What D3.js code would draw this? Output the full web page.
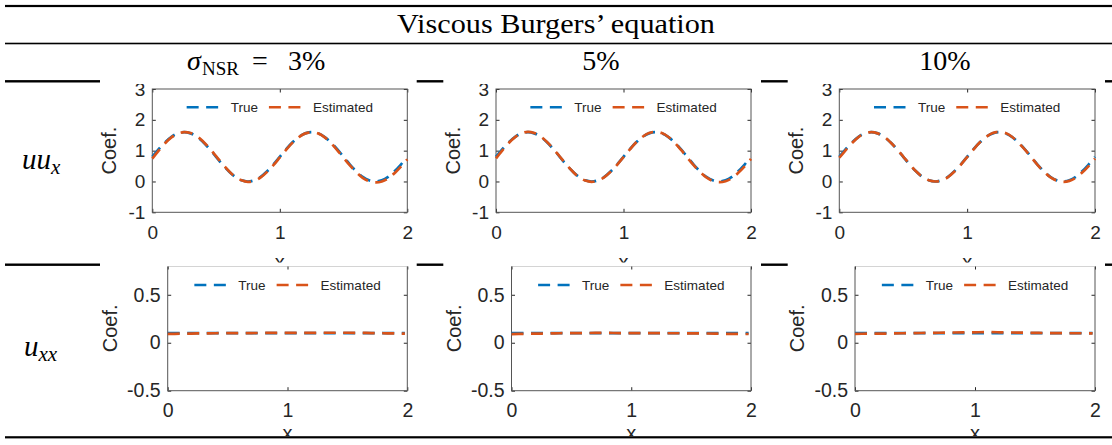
<!DOCTYPE html>
<html>
<head>
<meta charset="utf-8">
<script src="https://cdn.jsdelivr.net/npm/d3@7"></script>
<style>
  html, body { margin: 0; padding: 0; background: #fff; }
  svg { display: block; }
</style>
</head>
<body>
<svg id="fig" width="1112" height="445"></svg>
<script>
// ---- data ---------------------------------------------------------------
const title = "Viscous Burgers\u2019 equation";
const noiseLevels = ["3%", "5%", "10%"];
const terms = ["uu_x", "u_xx"];
const seriesNames = ["True", "Estimated"];

// x grid of the uu_x coefficient curves
const xTop = [0.00,0.05,0.10,0.15,0.20,0.25,0.30,0.35,0.40,0.45,0.50,0.55,0.60,0.65,0.70,0.75,0.80,0.85,0.90,0.95,
              1.00,1.05,1.10,1.15,1.20,1.25,1.30,1.35,1.40,1.45,1.50,1.55,1.60,1.65,1.70,1.75,1.80,1.85,1.90,1.95,2.00];
const trueUUx = [0.80,1.05,1.27,1.45,1.56,1.60,1.56,1.45,1.27,1.05,0.80,0.55,0.33,0.15,0.04,0.00,0.04,0.15,0.33,0.55,
                 0.80,1.05,1.27,1.45,1.56,1.60,1.56,1.45,1.27,1.05,0.80,0.55,0.33,0.15,0.04,0.00,0.04,0.15,0.33,0.55,0.80];
const estUUx3  = [0.74,1.00,1.24,1.43,1.55,1.60,1.57,1.47,1.29,1.07,0.82,0.57,0.34,0.15,0.04,-0.01,0.02,0.13,0.31,0.53,
                  0.78,1.03,1.26,1.44,1.56,1.60,1.56,1.44,1.25,1.02,0.77,0.52,0.30,0.12,0.01,-0.03,0.00,0.10,0.27,0.48,0.72];
const estUUx5  = [0.75,1.01,1.25,1.44,1.56,1.61,1.57,1.46,1.28,1.06,0.81,0.56,0.33,0.14,0.03,-0.01,0.03,0.14,0.32,0.54,
                  0.79,1.04,1.27,1.45,1.57,1.61,1.57,1.45,1.26,1.03,0.78,0.53,0.31,0.13,0.02,-0.02,0.01,0.11,0.28,0.49,0.73];
const estUUx10 = [0.77,1.02,1.25,1.44,1.56,1.60,1.56,1.45,1.27,1.05,0.81,0.56,0.33,0.15,0.04,0.00,0.03,0.14,0.32,0.54,
                  0.79,1.04,1.27,1.45,1.57,1.61,1.57,1.45,1.26,1.04,0.79,0.54,0.32,0.14,0.03,-0.01,0.02,0.12,0.29,0.50,0.74];

// x grid of the u_xx coefficient curves
const xBot = [0.0,0.1,0.2,0.3,0.4,0.5,0.6,0.7,0.8,0.9,1.0,1.1,1.2,1.3,1.4,1.5,1.6,1.7,1.8,1.9,1.98];
const trueUxx = [0.1,0.1,0.1,0.1,0.1,0.1,0.1,0.1,0.1,0.1,0.1,0.1,0.1,0.1,0.1,0.1,0.1,0.1,0.1,0.1,0.1];
const estUxx3  = [0.092,0.094,0.096,0.098,0.099,0.100,0.101,0.101,0.102,0.102,0.102,0.103,0.103,0.104,0.104,0.104,0.103,0.101,0.099,0.097,0.095];
const estUxx5  = [0.090,0.093,0.095,0.097,0.099,0.100,0.101,0.102,0.102,0.101,0.101,0.100,0.100,0.099,0.099,0.098,0.097,0.095,0.093,0.092,0.091];
const estUxx10 = [0.093,0.094,0.095,0.097,0.099,0.101,0.102,0.104,0.106,0.108,0.109,0.110,0.109,0.107,0.105,0.103,0.101,0.100,0.099,0.099,0.098];

const xTicks = [0, 1, 2];
const yTicksTop = [-1, 0, 1, 2, 3];
const yTicksBot = [-0.5, 0, 0.5];
const xDomain = [0, 2];
const yDomainTop = [-1, 3];
const yDomainBot = [-0.5, 0.8];

// ---- styling / layout --------------------------------------------------
const colors = { True: "#0072BD", Estimated: "#D95319" };
const axisInk = "#262626";
const sansFont = "'Liberation Sans', Arial, Helvetica, sans-serif";
const serifFont = "'Liberation Serif', 'Times New Roman', serif";

const rows = [
  { term: terms[0], x: xTop, y: [[trueUUx, estUUx3], [trueUUx, estUUx5], [trueUUx, estUUx10]],
    yDomain: yDomainTop, yTicks: yTicksTop, top: 89, bottom: 212.3,
    lefts: [152.3, 496, 839.3], rights: [407.3, 751, 1095],
    fs: 19, labelGap: 36.3, xLabelDy: 57, clipY: [84, 262.5], legendDy: 18.3 },
  { term: terms[1], x: xBot, y: [[trueUxx, estUxx3], [trueUxx, estUxx5], [trueUxx, estUxx10]],
    yDomain: yDomainBot, yTicks: yTicksBot, top: 266, bottom: 390.7,
    lefts: [167.7, 511.5, 855], rights: [407.3, 751, 1095],
    fs: 19.5, labelGap: 51, xLabelDy: 49.6, clipY: [266.5, 436], legendDy: 19 }
];
const cellBounds = [[100, 416.7], [443.3, 761], [787.7, 1105]];

const svg = d3.select("#fig");
const defs = svg.append("defs");

// ---- table rules -------------------------------------------------------
const rule = (x0, x1, y, h) =>
  svg.append("rect").attr("x", x0).attr("y", y - h / 2).attr("width", x1 - x0).attr("height", h).attr("fill", "#000");
rule(5, 1112, 6, 2.2);
rule(5, 1112, 43.5, 1.6);
rule(5, 1112, 437.3, 2.2);
[81.3, 264.7].forEach(y => {
  [[5, 100], [416.7, 443.3], [761, 787.7], [1105, 1112]].forEach(([a, b]) => rule(a, b, y, 2.4));
});

// ---- title and column headers -----------------------------------------
svg.append("text")
  .attr("x", 556).attr("y", 33)
  .attr("text-anchor", "middle")
  .attr("font-family", serifFont).attr("font-size", 28)
  .attr("textLength", 318).attr("lengthAdjust", "spacingAndGlyphs")
  .text(title);

const hdr = svg.append("text").attr("y", 70).attr("font-family", serifFont).attr("font-size", 28);
hdr.append("tspan").attr("x", 187).attr("font-style", "italic").text("\u03C3");
hdr.append("tspan").attr("x", 202).attr("dy", 5).attr("font-size", 19).text("NSR");
hdr.append("tspan").attr("x", 252).attr("dy", -5).text("=");
hdr.append("tspan").attr("x", 288).text(noiseLevels[0]);

[[noiseLevels[1], 601], [noiseLevels[2], 945]].forEach(([t, cx]) => {
  svg.append("text").attr("x", cx).attr("y", 70).attr("text-anchor", "middle")
    .attr("font-family", serifFont).attr("font-size", 28).text(t);
});

// ---- row labels --------------------------------------------------------
const rowLab1 = svg.append("text").attr("x", 22).attr("y", 169)
  .attr("font-family", serifFont).attr("font-size", 29).attr("font-style", "italic");
rowLab1.append("tspan").text("uu");
rowLab1.append("tspan").attr("dy", 5).attr("font-size", 21).text("x");

const rowLab2 = svg.append("text").attr("x", 24).attr("y", 356)
  .attr("font-family", serifFont).attr("font-size", 29).attr("font-style", "italic");
rowLab2.append("tspan").text("u");
rowLab2.append("tspan").attr("dy", 5).attr("font-size", 21).text("xx");

// ---- panels ------------------------------------------------------------
const lineGen = (xs, sx, sy) => d3.line()
  .x((d, i) => sx(xs[i])).y(d => sy(d))
  .curve(d3.curveCatmullRom.alpha(0.5));

rows.forEach((row, ri) => {
  noiseLevels.forEach((lvl, ci) => {
    const left = row.lefts[ci], right = row.rights[ci];
    const w = right - left, h = row.bottom - row.top;
    const clipId = `clip-${ri}-${ci}`;
    defs.append("clipPath").attr("id", clipId).append("rect")
      .attr("x", cellBounds[ci][0]).attr("y", row.clipY[0])
      .attr("width", cellBounds[ci][1] - cellBounds[ci][0])
      .attr("height", row.clipY[1] - row.clipY[0]);

    const outer = svg.append("g").attr("clip-path", `url(#${clipId})`);
    const g = outer.append("g").attr("transform", `translate(${left},${row.top})`);

    const sx = d3.scaleLinear().domain(xDomain).range([0, w]);
    const sy = d3.scaleLinear().domain(row.yDomain).range([h, 0]);

    // axes with inward ticks on all four sides
    const tick = 3.5;
    const styleAxis = sel => {
      sel.select(".domain").remove();
      sel.selectAll("line").attr("stroke", axisInk).attr("stroke-width", 1);
      sel.selectAll("text").attr("fill", axisInk).attr("font-family", sansFont).attr("font-size", row.fs);
    };
    g.append("g").attr("transform", `translate(0,${h})`)
      .call(d3.axisBottom(sx).tickValues(xTicks).tickFormat(d3.format("d")).tickSize(-tick).tickPadding(26.3 - 0.71 * row.fs))
      .call(styleAxis);
    g.append("g")
      .call(d3.axisTop(sx).tickValues(xTicks).tickFormat("").tickSize(-tick))
      .call(styleAxis);
    g.append("g")
      .call(d3.axisLeft(sy).tickValues(row.yTicks).tickFormat(d => String(d)).tickSize(-tick).tickPadding(7))
      .call(styleAxis);
    g.append("g").attr("transform", `translate(${w},0)`)
      .call(d3.axisRight(sy).tickValues(row.yTicks).tickFormat("").tickSize(-tick))
      .call(styleAxis);
    g.append("rect").attr("x", 0).attr("y", 0).attr("width", w).attr("height", h)
      .attr("fill", "none").attr("stroke", "#555").attr("stroke-width", 1);

    // axis titles
    g.append("text")
      .attr("transform", `translate(${-row.labelGap},${h / 2}) rotate(-90)`)
      .attr("text-anchor", "middle")
      .attr("font-family", sansFont).attr("font-size", 20).attr("fill", axisInk)
      .text("Coef.");
    g.append("text")
      .attr("x", w / 2).attr("y", h + row.xLabelDy)
      .attr("text-anchor", "middle")
      .attr("font-family", sansFont).attr("font-size", 20).attr("fill", axisInk)
      .text("x");

    // curves: true first, estimate drawn over it
    const plot = g.append("g");
    row.y[ci].forEach((vals, si) => {
      plot.append("path")
        .attr("d", lineGen(row.x, sx, sy)(vals))
        .attr("fill", "none")
        .attr("stroke", colors[seriesNames[si]])
        .attr("stroke-width", 2.7)
        .attr("stroke-dasharray", "12,7.5");
    });

    // legend, centred along the top of the axes
    const lg = g.append("g");
    const sample = 32, textGap = 12, itemGap = 11, lfs = 13.5;
    let cursor = 0;
    seriesNames.forEach(name => {
      const item = lg.append("g").attr("transform", `translate(${cursor},0)`);
      item.append("line").attr("x1", 0).attr("x2", sample).attr("y1", 0).attr("y2", 0)
        .attr("stroke", colors[name]).attr("stroke-width", 2.6).attr("stroke-dasharray", "12,7.5");
      const t = item.append("text").attr("x", sample + textGap).attr("y", 0).attr("dy", "0.36em")
        .attr("font-family", sansFont).attr("font-size", lfs).attr("fill", axisInk).text(name);
      const tw = t.node().getComputedTextLength();
      cursor += sample + textGap + tw + itemGap;
    });
    const total = cursor - itemGap;
    lg.attr("transform", `translate(${(w - total) / 2},${row.legendDy})`);
  });
});
</script>
</body>
</html>
